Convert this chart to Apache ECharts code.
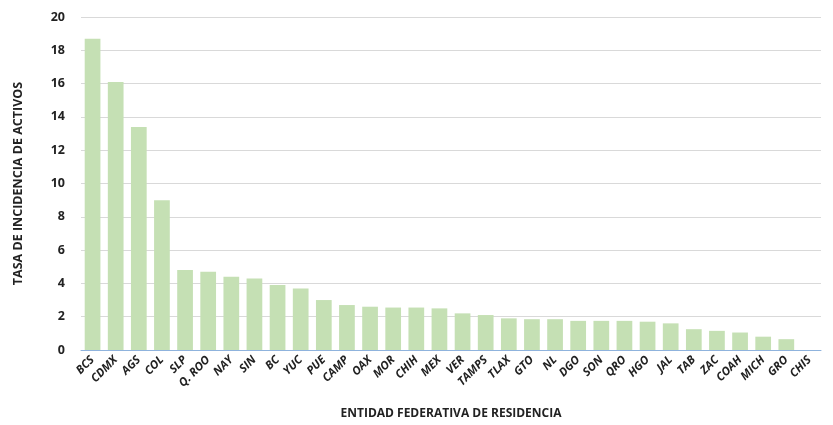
<!DOCTYPE html>
<html><head><meta charset="utf-8">
<script src="https://cdn.jsdelivr.net/npm/echarts@6/dist/echarts.min.js"></script>
<style>html,body{margin:0;padding:0;background:#fff}#c{width:833px;height:425px}</style>
</head><body><div id="c"></div>
<script>
const estados = ['BCS','CDMX','AGS','COL','SLP','Q. ROO','NAY','SIN','BC','YUC','PUE','CAMP','OAX','MOR','CHIH','MEX','VER','TAMPS','TLAX','GTO','NL','DGO','SON','QRO','HGO','JAL','TAB','ZAC','COAH','MICH','GRO','CHIS'];
const tasa = [18.7,16.1,13.4,9.0,4.8,4.7,4.4,4.3,3.9,3.7,3.0,2.7,2.6,2.55,2.55,2.5,2.2,2.1,1.9,1.85,1.85,1.75,1.75,1.75,1.7,1.6,1.25,1.15,1.05,0.8,0.65,0];
const chart = echarts.init(document.getElementById('c'));
chart.setOption({
  animation: false,
  grid: {left: 81, right: 12, top: 17, bottom: 71},
  xAxis: {
    type: 'category', data: estados,
    name: 'ENTIDAD FEDERATIVA DE RESIDENCIA', nameLocation: 'middle', nameGap: 58,
    nameTextStyle: {fontFamily: 'Open Sans', fontWeight: 'bold', fontSize: 12, color: '#222'},
    axisLine: {lineStyle: {color: '#8fb3dd'}}, axisTick: {show: false},
    axisLabel: {rotate: 45, interval: 0, fontWeight: 'bold', fontStyle: 'italic', fontSize: 11.5, color: '#222', fontFamily: 'Open Sans', margin: 8}
  },
  yAxis: {
    type: 'value', min: 0, max: 20, interval: 2,
    name: 'TASA DE INCIDENCIA DE ACTIVOS', nameLocation: 'middle', nameGap: 56,
    nameTextStyle: {fontFamily: 'Open Sans', fontWeight: 'bold', fontSize: 12.5, color: '#222'},
    axisLabel: {fontWeight: 'bold', fontSize: 12.5, color: '#222', fontFamily: 'Open Sans', margin: 16},
    splitLine: {lineStyle: {color: '#d9d9d9'}}
  },
  series: [{type: 'bar', data: tasa, barWidth: '68%', itemStyle: {color: '#c5e0b4'}}]
});
</script></body></html>
